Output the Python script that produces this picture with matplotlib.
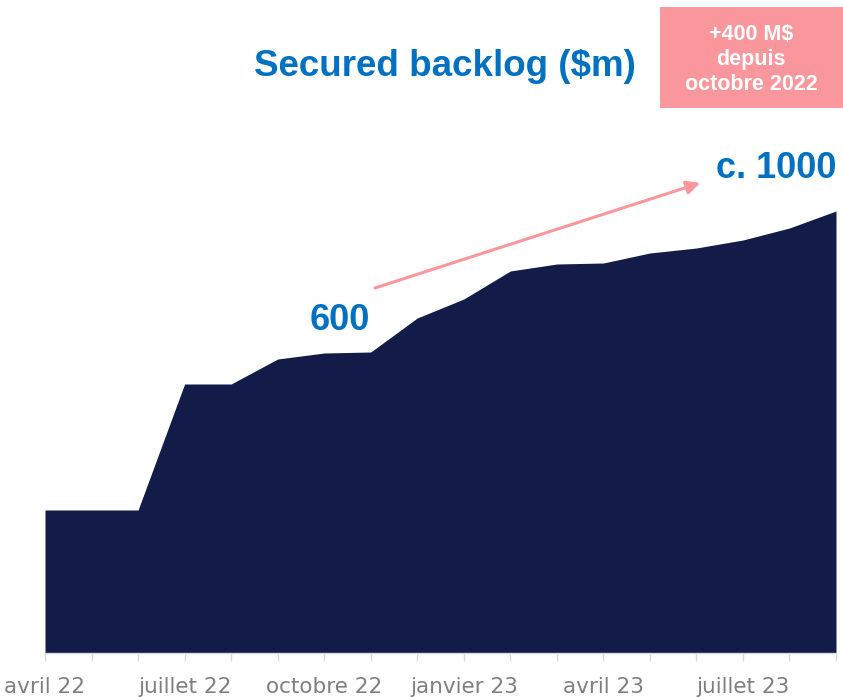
import matplotlib
matplotlib.use('Agg')
import matplotlib.pyplot as plt
from matplotlib.patches import Rectangle

months = ['avr 22', 'mai 22', 'juin 22', 'juil 22', 'août 22', 'sept 22',
          'oct 22', 'nov 22', 'déc 22', 'janv 23', 'févr 23', 'mars 23',
          'avr 23', 'mai 23', 'juin 23', 'juil 23', 'août 23', 'sept 23']
backlog = [286, 286, 286, 538, 538, 588, 600, 602, 670, 708,
           764, 778, 780, 800, 810, 826, 850, 884]
tick_labels = ['avril 22', 'juillet 22', 'octobre 22', 'janvier 23', 'avril 23', 'juillet 23']

navy = '#131c48'
blue = '#0070c0'
pink = '#f9979c'

W, H = 843, 697
fig = plt.figure(figsize=(W / 100, H / 100), dpi=100)
ax = fig.add_axes([45 / W, 1 - 653 / H, (836 - 45) / W, (653 - 111) / H])

x = list(range(len(months)))
ax.fill_between(x, 0, backlog, color=navy, lw=0)
ax.set_xlim(0, len(months) - 1)
ax.set_ylim(0, 1084)

for s in ['top', 'right', 'left']:
    ax.spines[s].set_visible(False)
ax.spines['bottom'].set_color('#d9d9d9')
ax.spines['bottom'].set_linewidth(1)
ax.set_yticks([])

ax.set_xticks(x[::3])
ax.set_xticklabels(tick_labels)
ax.set_xticks(x, minor=True)
ax.tick_params(axis='x', which='both', length=6, color='#d9d9d9', width=1)
ax.tick_params(axis='x', which='major', pad=11, labelsize=15.5, labelcolor='#7f7f7f')

# arrow and labels
ax.annotate('', xy=(14.08, 940), xytext=(7.09, 730),
            arrowprops=dict(arrowstyle='-|>,head_length=0.8,head_width=0.4',
                            color=pink, lw=2.2, shrinkA=0, shrinkB=0),
            annotation_clip=False)
ax.text(6.34, 666, '600', color=blue, fontsize=26, fontweight='bold',
        family='Liberation Sans', ha='center', va='center')
ax.text(17, 970, 'c. 1000', color=blue, fontsize=26, fontweight='bold',
        family='Liberation Sans', ha='right', va='center', clip_on=False)

fig.text(445 / W, 1 - 67 / H, 'Secured backlog ($m)', color=blue, fontsize=26.5,
         fontweight='bold', family='Liberation Sans', ha='center', va='center')

fig.patches.append(Rectangle((660 / W, 1 - 108 / H), 183 / W, 101 / H,
                             transform=fig.transFigure, color=pink, lw=0))
fig.text(751 / W, 1 - 60 / H, '+400 M$\ndepuis\noctobre 2022', color='white',
         fontsize=15.5, fontweight='bold', family='Liberation Sans',
         ha='center', va='center', linespacing=1.25)

fig.savefig('out.png', dpi=100)
